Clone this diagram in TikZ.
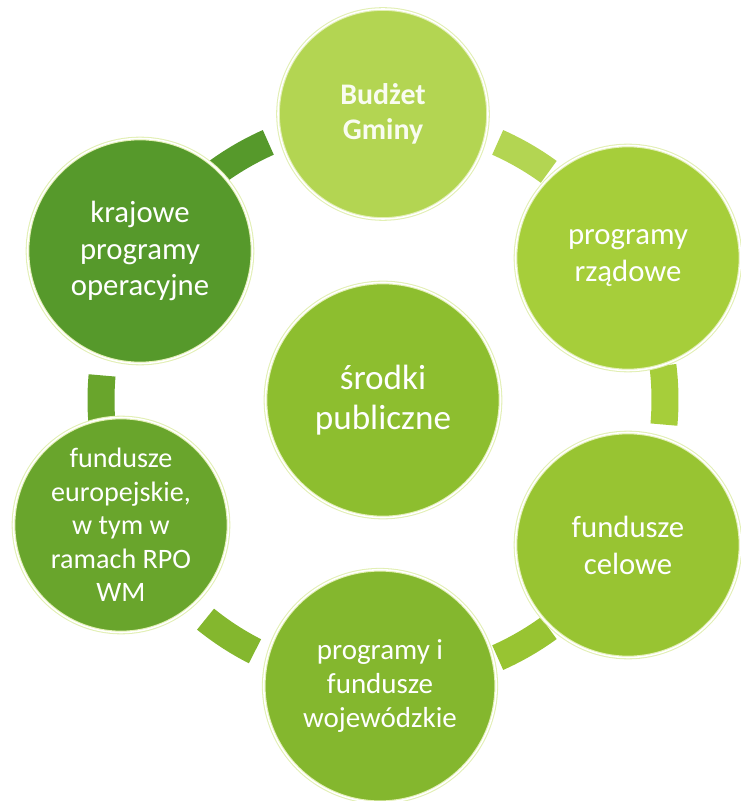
\documentclass[tikz,border=0pt]{standalone}
\usepackage{fontspec}
\setmainfont{Carlito}
\usetikzlibrary{positioning}

\definecolor{gTop}{HTML}{B3D552}
\definecolor{gTR}{HTML}{A6CE3A}
\definecolor{gBR}{HTML}{98C432}
\definecolor{gBot}{HTML}{84B72E}
\definecolor{gBL}{HTML}{69A52C}
\definecolor{gTL}{HTML}{56992B}
\definecolor{gMid}{HTML}{8DBE2F}
\definecolor{rim}{HTML}{E2EFB4}

\begin{document}
\begin{tikzpicture}[
  disc/.style={circle,draw=rim,line width=0.6pt,double=white,double distance=0.9pt,
    text=white,align=center,inner sep=0pt,minimum size=4.5cm,font=\fontsize{17.5}{21}\selectfont},
  hub/.style={disc,minimum size=4.7cm,font=\fontsize{20}{23}\selectfont},
  link/.style={draw=none}]
\useasboundingbox (-7.66,-8.02) rectangle (7.16,8.0);

% --- ring links --------------------------------------------------------
\foreach \a/\c in {120/gTL,60/gTop,1/gTR,-60/gBR,-123/gBot,181/gBL}{
  \pgfmathsetmacro{\aa}{\a-6}
  \pgfmathsetmacro{\ab}{\a+6}
  \fill[link,\c] (\aa:5.37) arc[start angle=\aa,end angle=\ab,radius=5.37]
    -- (\ab:5.91) arc[start angle=\ab,end angle=\aa,radius=5.91] -- cycle;
}

% --- centre ------------------------------------------------------------
\node[hub,fill=gMid] (mid) at (0,0) {środki\\publiczne};

% --- outer discs -------------------------------------------------------
\node[disc,fill=gTop,minimum size=4.2cm,font=\fontsize{17}{20}\selectfont\bfseries,text=white!92!gTop]
  (budzet) at (0,5.72) {Budżet\\Gminy};
\node[disc,fill=gTR] (rzad) at (4.9,2.84) {programy\\rządowe};
\node[disc,fill=gBR] (celowe) at (4.9,-2.9) {fundusze\\celowe};
\node[disc,fill=gBot,minimum size=4.65cm,font=\fontsize{16.5}{19.5}\selectfont]
  (woj) at (-0.06,-5.72) {programy i\\fundusze\\wojewódzkie};
\node[disc,fill=gBL,minimum size=4.3cm,font=\fontsize{16}{19}\selectfont]
  (euro) at (-5.24,-2.5) {fundusze\\europejskie,\\w tym w\\ramach RPO\\WM};
\node[disc,fill=gTL] (kraj) at (-4.86,2.98) {krajowe\\programy\\operacyjne};
\end{tikzpicture}
\end{document}
